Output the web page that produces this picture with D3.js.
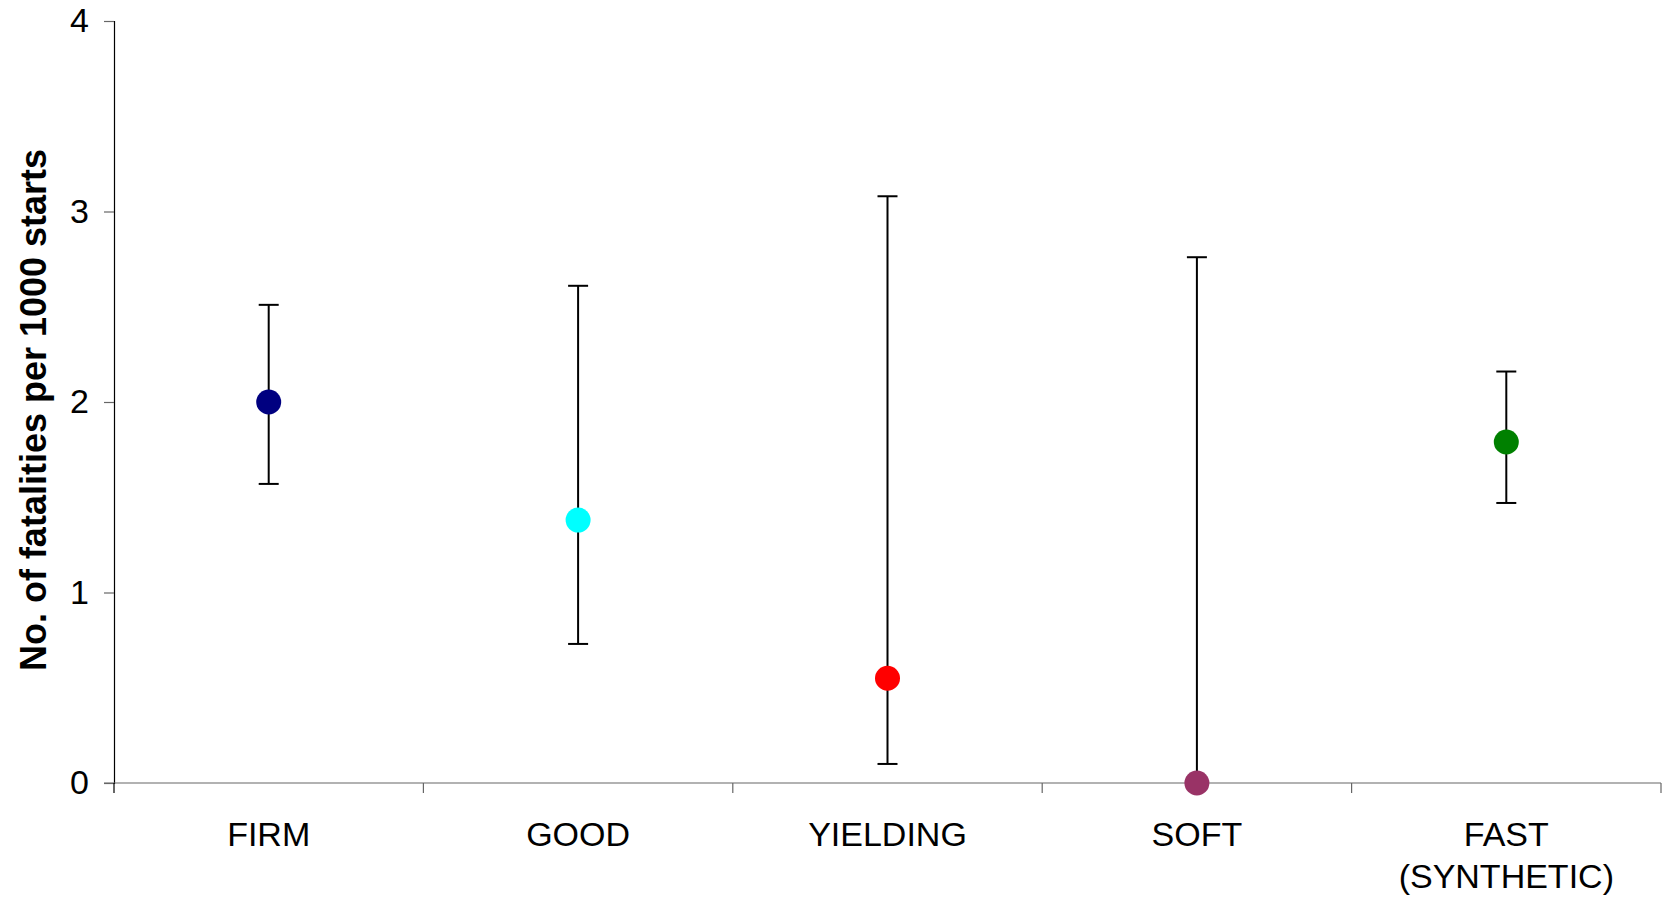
<!DOCTYPE html>
<html>
<head>
<meta charset="utf-8">
<script src="https://cdn.jsdelivr.net/npm/d3@7"></script>
<style>
  html, body { margin: 0; padding: 0; background: #fff; }
  svg { display: block; font-family: "Liberation Sans", Arial, sans-serif; }
</style>
</head>
<body>
<svg id="chart" width="1670" height="899"></svg>
<script>
// Track surface categories (multi-line labels split on "\n")
const categories = ["FIRM", "GOOD", "YIELDING", "SOFT", "FAST\n(SYNTHETIC)"];
// Fatalities per 1000 starts, with confidence interval bounds
const rates = [2.0, 1.38, 0.55, 0.0, 1.79];
const lowerCI = [1.57, 0.73, 0.10, 0.0, 1.47];
const upperCI = [2.51, 2.61, 3.08, 2.76, 2.16];
const pointColors = ["#000080", "#00FFFF", "#FF0000", "#993366", "#008000"];
const yTicks = [0, 1, 2, 3, 4];
const yTitle = "No. of fatalities per 1000 starts";

const svg = d3.select("#chart");
const plot = { left: 114, right: 1661, top: 21, bottom: 783 };

const x = d3.scaleBand().domain(categories).range([plot.left, plot.right]).padding(0);
const y = d3.scaleLinear().domain([0, 4]).range([plot.bottom, plot.top]);

// Y axis
const yAxis = svg.append("g")
  .attr("transform", `translate(${plot.left},0)`)
  .call(d3.axisLeft(y).tickValues(yTicks).tickSize(10).tickPadding(15).tickFormat(d3.format("d")));
yAxis.select(".domain").attr("stroke", "#000").attr("stroke-width", 1.2);
yAxis.selectAll(".tick line").attr("stroke", "#666").attr("stroke-width", 1.2);
yAxis.selectAll(".tick text")
  .attr("fill", "#000")
  .style("font-size", "34px")
  .style("font-family", "'Liberation Sans', Arial, sans-serif");

// X axis baseline and category separator ticks
const xAxis = svg.append("g");
xAxis.append("line")
  .attr("x1", plot.left - 10).attr("x2", plot.right)
  .attr("y1", y(0)).attr("y2", y(0))
  .attr("stroke", "#666").attr("stroke-width", 1.2);
const boundaries = categories.map(c => x(c)).concat([x(categories[categories.length - 1]) + x.bandwidth()]);
xAxis.selectAll("line.sep")
  .data(boundaries)
  .join("line")
  .attr("class", "sep")
  .attr("x1", d => d).attr("x2", d => d)
  .attr("y1", y(0)).attr("y2", y(0) + 10)
  .attr("stroke", (d, i) => i === 0 ? "#000" : "#666")
  .attr("stroke-width", 1.2);

// Category labels
xAxis.selectAll("text.cat")
  .data(categories)
  .join("text")
  .attr("class", "cat")
  .attr("text-anchor", "middle")
  .attr("x", d => x(d) + x.bandwidth() / 2)
  .attr("y", 846)
  .style("font-size", "34px")
  .attr("fill", "#000")
  .each(function (d) {
    const lines = d.split("\n");
    d3.select(this).selectAll("tspan")
      .data(lines)
      .join("tspan")
      .attr("x", x(d) + x.bandwidth() / 2)
      .attr("dy", (l, i) => i === 0 ? 0 : 42)
      .text(l => l);
  });

// Y axis title
svg.append("text")
  .attr("transform", `translate(46,410) rotate(-90)`)
  .attr("text-anchor", "middle")
  .style("font-size", "36px")
  .style("font-weight", "bold")
  .attr("fill", "#000")
  .text(yTitle);

// Error bars
const rows = categories.map((c, i) => ({ c, v: rates[i], lo: lowerCI[i], hi: upperCI[i], color: pointColors[i] }));
const cx = d => x(d.c) + x.bandwidth() / 2;
const capHalf = 10;
const bars = svg.append("g").attr("stroke", "#000").attr("stroke-width", 2);
bars.selectAll("line.stem").data(rows).join("line")
  .attr("x1", cx).attr("x2", cx)
  .attr("y1", d => y(d.lo)).attr("y2", d => y(d.hi));
bars.selectAll("line.capHi").data(rows).join("line").attr("class", "capHi")
  .attr("x1", d => cx(d) - capHalf).attr("x2", d => cx(d) + capHalf)
  .attr("y1", d => y(d.hi)).attr("y2", d => y(d.hi));
bars.selectAll("line.capLo").data(rows.filter(d => d.lo > 0)).join("line").attr("class", "capLo")
  .attr("x1", d => cx(d) - capHalf).attr("x2", d => cx(d) + capHalf)
  .attr("y1", d => y(d.lo)).attr("y2", d => y(d.lo));

// Points
svg.append("g").selectAll("circle").data(rows).join("circle")
  .attr("cx", cx)
  .attr("cy", d => y(d.v))
  .attr("r", 12.5)
  .attr("fill", d => d.color);
</script>
</body>
</html>
